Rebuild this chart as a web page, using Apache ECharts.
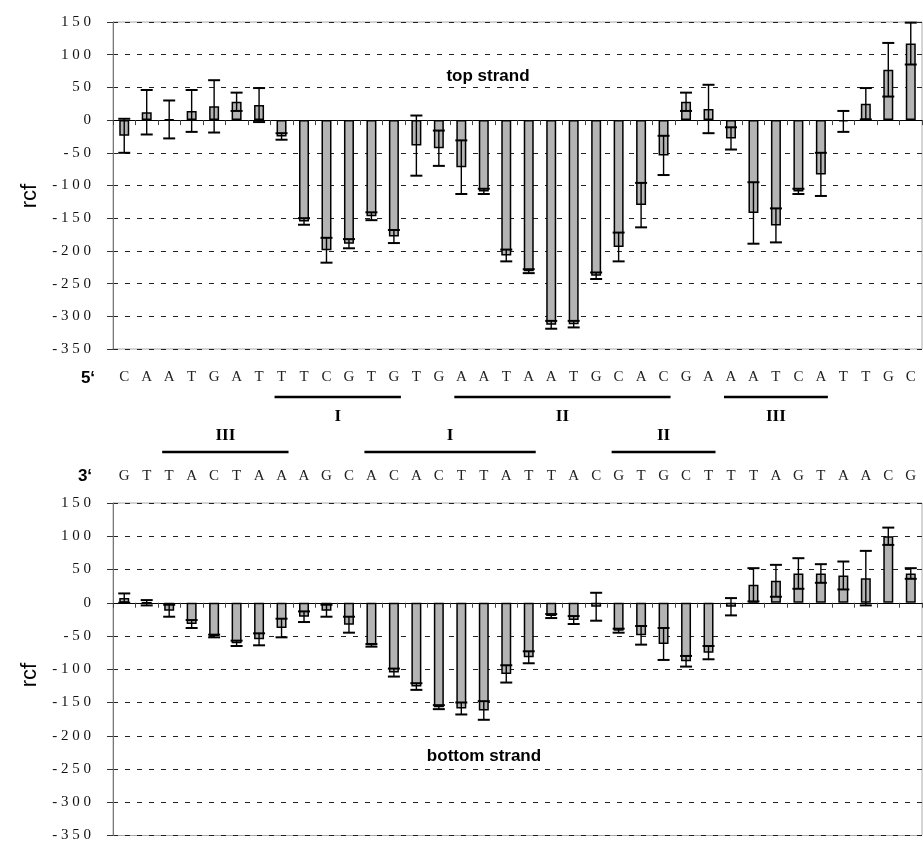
<!DOCTYPE html>
<html><head><meta charset="utf-8">
<script src="https://cdn.jsdelivr.net/npm/echarts/dist/echarts.min.js"></script>
<style>html,body{margin:0;padding:0;background:#fff}#c{width:923px;height:843px}</style>
</head><body><div id="c"></div>
<script>
// ---- data ----
const topSeq = ['C','A','A','T','G','A','T','T','T','C','G','T','G','T','G','A','A','T','A','A','T','G','C','A','C','G','A','A','A','T','C','A','T','T','G','C'];
const botSeq = ['G','T','T','A','C','T','A','A','A','G','C','A','C','A','C','T','T','A','T','T','A','C','G','T','G','C','T','T','T','A','G','T','A','A','C','G'];
const topVals = [-24, 12, 1, 14, 21, 28, 23, -25, -155, -199, -189, -147, -178, -39, -43, -72, -109, -207, -231, -313, -312, -238, -194, -130, -54, 28, 17, -28, -142, -161, -109, -83, -2, 25, 77, 117];
const topErr  = [26, 34, 29, 32, 40, 14, 26, 5, 5, 19, 7, 6, 10, 46, 27, 41, 4, 9, 3, 6, 5, 5, 22, 34, 30, 14, 37, 17, 47, 26, 4, 33, 16, 24, 41, 32];
const botVals = [7, 0, -12, -32, -50, -61, -55, -38, -21, -12, -33, -64, -105, -126, -157, -159, -162, -107, -82, -20, -26, -6, -42, -49, -62, -88, -75, -6, 27, 33, 44, 44, 41, 37, 100, 44];
const botErr  = [7, 4, 9, 6, 2, 4, 9, 14, 8, 9, 12, 2, 6, 5, 3, 9, 14, 13, 9, 3, 6, 21, 3, 14, 24, 8, 10, 13, 25, 24, 23, 14, 21, 41, 13, 8];
const yTicks = [150, 100, 50, 0, -50, -100, -150, -200, -250, -300, -350];
const topMarkLabels = ['I', 'II', 'III'];
const topMarkStart = [8, 16, 28];
const topMarkEnd = [13, 25, 32];
const botMarkLabels = ['III', 'I', 'II'];
const botMarkStart = [3, 12, 23];
const botMarkEnd = [8, 19, 27];

// ---- chart ----
const chart = echarts.init(document.getElementById('c'), null, {renderer: 'canvas'});
const serif = '"Liberation Serif", "DejaVu Serif", serif';
const sans = '"Liberation Sans", Arial, sans-serif';

function yLabel(v) {
  const s = String(Math.abs(v)).split('').join(' ');
  return v < 0 ? '- ' + s : s;
}
function errData(vals, errs) {
  return vals.map((v, i) => [i, v - errs[i], v + errs[i]]);
}
function errItem(params, api) {
  const i = api.value(0);
  const a = api.coord([i, api.value(1)]);
  const b = api.coord([i, api.value(2)]);
  const hw = 6;
  return {type: 'group', children: [
    {type: 'line', shape: {x1: a[0], y1: a[1], x2: b[0], y2: b[1]}, style: {stroke: '#000', lineWidth: 1.4}},
    {type: 'line', shape: {x1: a[0] - hw, y1: a[1], x2: a[0] + hw, y2: a[1]}, style: {stroke: '#000', lineWidth: 2}},
    {type: 'line', shape: {x1: b[0] - hw, y1: b[1], x2: b[0] + hw, y2: b[1]}, style: {stroke: '#000', lineWidth: 2}}
  ]};
}
function yAxisDef(gi) {
  return {
    type: 'value', gridIndex: gi, min: yTicks[yTicks.length - 1], max: yTicks[0], interval: 50,
    axisLine: {show: true, lineStyle: {color: '#777', width: 1}},
    axisTick: {show: true, length: 6, lineStyle: {color: '#333'}},
    axisLabel: {formatter: yLabel, margin: 22, color: '#111', fontFamily: serif, fontSize: 15},
    splitLine: {show: true, lineStyle: {color: '#222', type: [5, 7], width: 1}}
  };
}
function zeroAxis(gi, data) {
  return {
    type: 'category', gridIndex: gi, data: data, position: 'bottom',
    axisLine: {show: true, onZero: true, lineStyle: {color: '#000', width: 1}},
    axisTick: {show: true, length: 5, lineStyle: {color: '#444'}},
    axisLabel: {show: false}, splitLine: {show: false}
  };
}
function seqAxis(gi, data, pos, margin) {
  return {
    type: 'category', gridIndex: gi, data: data, position: pos,
    axisLine: {show: false, onZero: false}, axisTick: {show: false},
    axisLabel: {show: true, interval: 0, margin: margin, color: '#222', fontFamily: serif, fontSize: 15},
    splitLine: {show: false}
  };
}
const barStyle = {color: '#b4b4b4', borderColor: '#000', borderWidth: 1.5};

chart.setOption({
  animation: false,
  backgroundColor: '#fff',
  grid: [
    {left: 113, top: 22, width: 809, height: 327, show: true, borderColor: '#aaa', borderWidth: 1},
    {left: 113, top: 503, width: 809, height: 335, show: true, borderColor: '#aaa', borderWidth: 1}
  ],
  xAxis: [zeroAxis(0, topSeq), seqAxis(0, topSeq, 'bottom', 21), zeroAxis(1, botSeq), seqAxis(1, botSeq, 'top', 19)],
  yAxis: [yAxisDef(0), yAxisDef(1)],
  series: [
    {type: 'bar', xAxisIndex: 0, yAxisIndex: 0, data: topVals, barWidth: 10, itemStyle: barStyle, z: 2},
    {type: 'custom', xAxisIndex: 0, yAxisIndex: 0, data: errData(topVals, topErr), renderItem: errItem, encode: {x: 0, y: [1, 2]}, z: 3},
    {type: 'bar', xAxisIndex: 2, yAxisIndex: 1, data: botVals, barWidth: 10, itemStyle: barStyle, z: 2},
    {type: 'custom', xAxisIndex: 2, yAxisIndex: 1, data: errData(botVals, botErr), renderItem: errItem, encode: {x: 0, y: [1, 2]}, z: 3}
  ]
});

// ---- annotations ----
const g = [];
function addMarks(axisIdx, labels, starts, ends, lineY, textY) {
  labels.forEach((lab, k) => {
    const x1 = chart.convertToPixel({xAxisIndex: axisIdx}, starts[k] - 1) - 7;
    const x2 = chart.convertToPixel({xAxisIndex: axisIdx}, ends[k] - 1) + 7;
    g.push({type: 'line', shape: {x1: x1, y1: lineY, x2: x2, y2: lineY}, style: {stroke: '#000', lineWidth: 2.5}});
    g.push({type: 'text', x: (x1 + x2) / 2, y: textY, style: {text: lab, fill: '#000', font: 'bold 17px ' + serif, align: 'center', verticalAlign: 'middle'}});
  });
}
addMarks(1, topMarkLabels, topMarkStart, topMarkEnd, 397, 417);
addMarks(3, botMarkLabels, botMarkStart, botMarkEnd, 452, 436);
g.push({type: 'text', x: 88, y: 378, style: {text: '5\u2018', fill: '#000', font: 'bold 17px ' + sans, align: 'center', verticalAlign: 'middle'}});
g.push({type: 'text', x: 85, y: 476, style: {text: '3\u2018', fill: '#000', font: 'bold 17px ' + sans, align: 'center', verticalAlign: 'middle'}});
g.push({type: 'text', x: 488, y: 76, style: {text: 'top strand', fill: '#000', font: 'bold 17px ' + sans, align: 'center', verticalAlign: 'middle'}});
g.push({type: 'text', x: 484, y: 756, style: {text: 'bottom strand', fill: '#000', font: 'bold 17px ' + sans, align: 'center', verticalAlign: 'middle'}});
g.push({type: 'text', x: 30, y: 196, rotation: Math.PI / 2, style: {text: 'rcf', fill: '#000', font: '22px ' + sans, align: 'center', verticalAlign: 'middle'}});
g.push({type: 'text', x: 30, y: 675, rotation: Math.PI / 2, style: {text: 'rcf', fill: '#000', font: '22px ' + sans, align: 'center', verticalAlign: 'middle'}});
chart.setOption({graphic: g});
</script>
</body></html>
